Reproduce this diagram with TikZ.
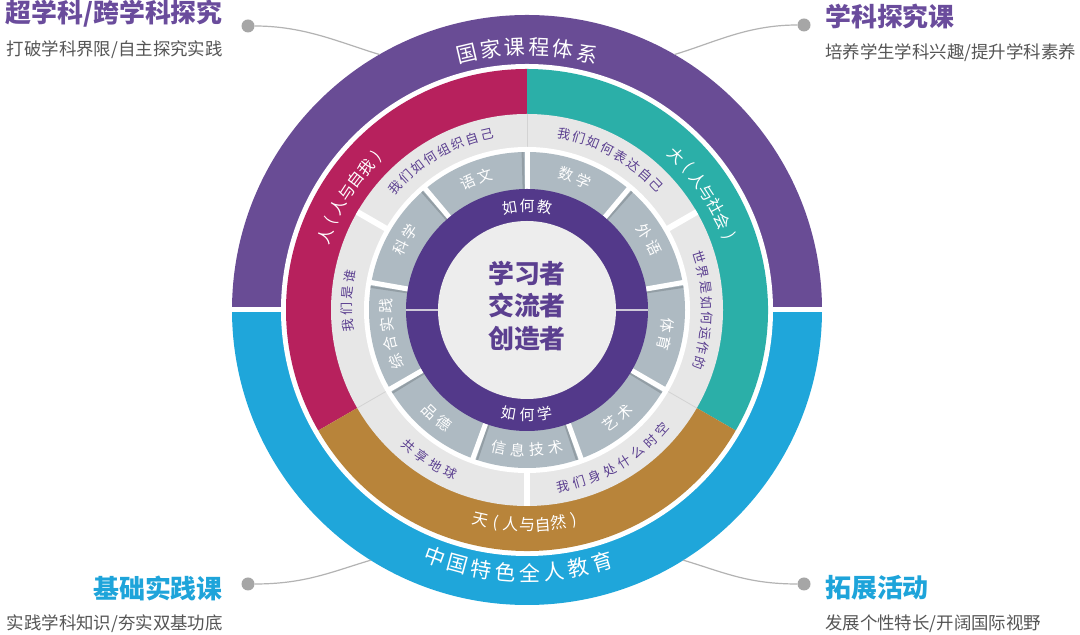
\documentclass[tikz,border=0pt]{standalone}
\usepackage{fontspec}
\setmainfont{Noto Sans CJK SC}
\usetikzlibrary{calc}
\definecolor{purpleO}{HTML}{694C95}
\definecolor{blueO}{HTML}{1FA6DA}
\definecolor{magentaC}{HTML}{B7215D}
\definecolor{tealC}{HTML}{2BAFA8}
\definecolor{goldC}{HTML}{B8843A}
\definecolor{lightG}{HTML}{E7E7E7}
\definecolor{segG}{HTML}{AEBAC2}
\definecolor{segShadow}{HTML}{939EA5}
\definecolor{purpleIn}{HTML}{53398A}
\definecolor{innerC}{HTML}{EDEDED}
\definecolor{textP}{HTML}{5B3F90}
\definecolor{titleP}{HTML}{6A4C9C}
\definecolor{titleB}{HTML}{1EA4DA}
\definecolor{subG}{HTML}{555555}
\definecolor{dotG}{HTML}{A6A6A6}
\definecolor{connG}{HTML}{B3B3B3}
\definecolor{sepG}{HTML}{D3D3D3}
\newcommand\myLP{(}
\newcommand\myRP{)}
\tikzset{
  dot/.style={circle, fill=dotG, minimum size=13bp, inner sep=0pt},
  conn/.style={draw=connG, line width=1.2bp},
  ttlP/.style={font=\bfseries\fontsize{26}{26}\selectfont, text=titleP, inner sep=0pt},
  ttlB/.style={font=\bfseries\fontsize{26}{26}\selectfont, text=titleB, inner sep=0pt},
  subt/.style={font=\fontsize{17.5}{17.5}\selectfont, text=subG, inner sep=0pt},
  outerlab/.style={font=\fontsize{21}{21}\selectfont, text=white, inner sep=0pt},
  colorlab/.style={font=\fontsize{16}{16}\selectfont, text=white, inner sep=0pt},
  graylab/.style={font=\fontsize{13}{13}\selectfont, text=textP, inner sep=0pt},
  seglab/.style={font=\fontsize{15}{15}\selectfont, text=white, inner sep=0pt},
  howlab/.style={font=\fontsize{15}{15}\selectfont, text=white, inner sep=0pt},
  centerlab/.style={font=\bfseries\fontsize{26}{33}\selectfont, text=textP, align=center, inner sep=0pt},
  sepline/.style={draw=sepG, line width=0.8bp},
  gapline/.style={draw=white, line width=6bp},
  seggap/.style={draw=white, line width=5bp},
  segshade/.style={draw=segShadow, line width=2bp},
  splitline/.style={draw=innerC!80!purpleIn, line width=1.3bp}
}
% #1 name prefix, #2 radius, #3 center angle, #4 step, #5 dir (-1 cw tops out, 1 ccw tops in), #6 n, #7 style, #8 chars
\newcommand\arclabel[8]{%
  \foreach \ch [count=\i] in {#8}{%
    \pgfmathsetmacro\ang{#3+(#5)*(\i-(#6+1)/2)*#4}%
    \pgfmathsetmacro\rot{\ang+(#5)*90}%
    \node[#7, rotate=\rot] (#1\i) at ($(C)+(\ang:#2bp)$) {\ch};
  }}
\begin{document}
\begin{tikzpicture}[x=1bp,y=1bp]
\useasboundingbox (0,0) rectangle (1080,635);
\fill[white] (0,0) rectangle (1080,635);
\coordinate (C) at (527,325);
% outer ring
\fill[purpleO] ($(C)+(0:295bp)$) arc[start angle=0, end angle=180, radius=295bp] -- cycle;
\fill[blueO] ($(C)+(180:295bp)$) arc[start angle=180, end angle=360, radius=295bp] -- cycle;
\fill[white] (C) circle[radius=246bp];
\fill[white] ($(C)+(-300bp,-2.5bp)$) rectangle ($(C)+(300bp,2.5bp)$);
% colored ring
\fill[magentaC] (C) -- ($(C)+(90:241bp)$) arc[start angle=90, end angle=210, radius=241bp] -- cycle;
\fill[tealC] (C) -- ($(C)+(-30:241bp)$) arc[start angle=-30, end angle=90, radius=241bp] -- cycle;
\fill[goldC] (C) -- ($(C)+(210:241bp)$) arc[start angle=210, end angle=330, radius=241bp] -- cycle;
% light gray ring
\fill[lightG] (C) circle[radius=196bp];
\foreach \a in {90,210,330}{\draw[sepline] ($(C)+(\a:163bp)$) -- ($(C)+(\a:196bp)$);}
\foreach \a in {30,150,270}{\draw[gapline] ($(C)+(\a:158bp)$) -- ($(C)+(\a:196bp)$);}
\fill[white] (C) circle[radius=163bp];
% gray segments
\fill[segG] (C) circle[radius=158bp];
\foreach \a/\b in {90/91.6,50/48.4,10/8.4,-30/-31.6,-70/-71.6,-110/-108.4,-150/-148.4,170/171.6,130/131.6}{
  \draw[segshade] ($(C)+(\b:121bp)$) -- ($(C)+(\b:158bp)$);
  \draw[seggap] ($(C)+(\a:118bp)$) -- ($(C)+(\a:159bp)$);
}
% purple ring and centre
\fill[purpleIn] (C) circle[radius=121bp];
\fill[innerC] (C) circle[radius=89bp];
\draw[splitline] ($(C)+(-121bp,0)$) -- ($(C)+(-89bp,0)$);
\draw[splitline] ($(C)+(89bp,0)$) -- ($(C)+(121bp,0)$);
% ring labels
\arclabel{oA}{263}{90}{5.3}{-1}{6}{outerlab}{国,家,课,程,体,系}
\arclabel{oB}{263}{268}{5.3}{1}{8}{outerlab}{中,国,特,色,全,人,教,育}
\arclabel{cA}{215}{147}{4.3}{-1}{7}{colorlab}{人,\myLP,人,与,自,我,\myRP}
\arclabel{cB}{215}{33}{4.3}{-1}{7}{colorlab}{大,\myLP,人,与,社,会,\myRP}
\arclabel{cC}{215}{270}{4.2}{1}{7}{colorlab}{天,\myLP,人,与,自,然,\myRP}
\arclabel{lA}{180}{120}{4.9}{-1}{8}{graylab}{我,们,如,何,组,织,自,己}
\arclabel{lB}{180}{61}{4.9}{-1}{8}{graylab}{我,们,如,何,表,达,自,己}
\arclabel{lC}{180}{0}{4.9}{-1}{8}{graylab}{世,界,是,如,何,运,作,的}
\arclabel{lD}{180}{300}{5.3}{1}{8}{graylab}{我,们,身,处,什,么,时,空}
\arclabel{lE}{180}{237}{5.3}{1}{4}{graylab}{共,享,地,球}
\arclabel{lF}{180}{177}{5.3}{-1}{4}{graylab}{我,们,是,谁}
\arclabel{gA}{141}{111}{7.5}{-1}{2}{seglab}{语,文}
\arclabel{gB}{141}{70}{7.5}{-1}{2}{seglab}{数,学}
\arclabel{gC}{141}{30}{7.5}{-1}{2}{seglab}{外,语}
\arclabel{gD}{141}{-10}{7.5}{-1}{2}{seglab}{体,育}
\arclabel{gE}{141}{-50}{7.5}{1}{2}{seglab}{艺,术}
\arclabel{gF}{140}{-90}{7.8}{1}{4}{seglab}{信,息,技,术}
\arclabel{gG}{141}{-130}{7.5}{1}{2}{seglab}{品,德}
\arclabel{gH}{141}{190}{7.8}{-1}{4}{seglab}{综,合,实,践}
\arclabel{gI}{141}{150}{7.5}{-1}{2}{seglab}{科,学}
\arclabel{hA}{104}{90}{9.7}{-1}{3}{howlab}{如,何,教}
\arclabel{hB}{105}{270}{9.7}{1}{3}{howlab}{如,何,学}
\node[centerlab] (ctr) at (527,329) {学习者\\交流者\\创造者};
% corner titles
\node[ttlP, anchor=east] (t1) at (223,621) {超学科/跨学科探究};
\node[subt, anchor=east] (s1) at (223,585) {打破学科界限/自主探究实践};
\node[ttlP, anchor=west] (t2) at (825,618) {学科探究课};
\node[subt, anchor=west] (s2) at (825,582) {培养学生学科兴趣/提升学科素养};
\node[ttlB, anchor=east] (t3) at (223,47) {基础实践课};
\node[subt, anchor=east] (s3) at (223,11) {实践学科知识/夯实双基功底};
\node[ttlB, anchor=west] (t4) at (825,47) {拓展活动};
\node[subt, anchor=west] (s4) at (825,11) {发展个性特长/开阔国际视野};
% connectors
\node[dot] (d1) at (248,609) {};
\node[dot] (d2) at (804,610) {};
\node[dot] (d3) at (248,51) {};
\node[dot] (d4) at (804,51) {};
\coordinate (e1) at ($(C)+(120:295bp)$);
\coordinate (e2) at ($(C)+(60:295bp)$);
\coordinate (e3) at ($(C)+(238:295bp)$);
\coordinate (e4) at ($(C)+(302:295bp)$);
\draw[conn] (d1.east) .. controls +(50,0) and +(-40,12) .. (e1);
\draw[conn] (d2.west) .. controls +(-50,0) and +(40,12) .. (e2);
\draw[conn] (d3.east) .. controls +(50,0) and +(-40,-12) .. (e3);
\draw[conn] (d4.west) .. controls +(-50,0) and +(40,-12) .. (e4);
\end{tikzpicture}
\end{document}
